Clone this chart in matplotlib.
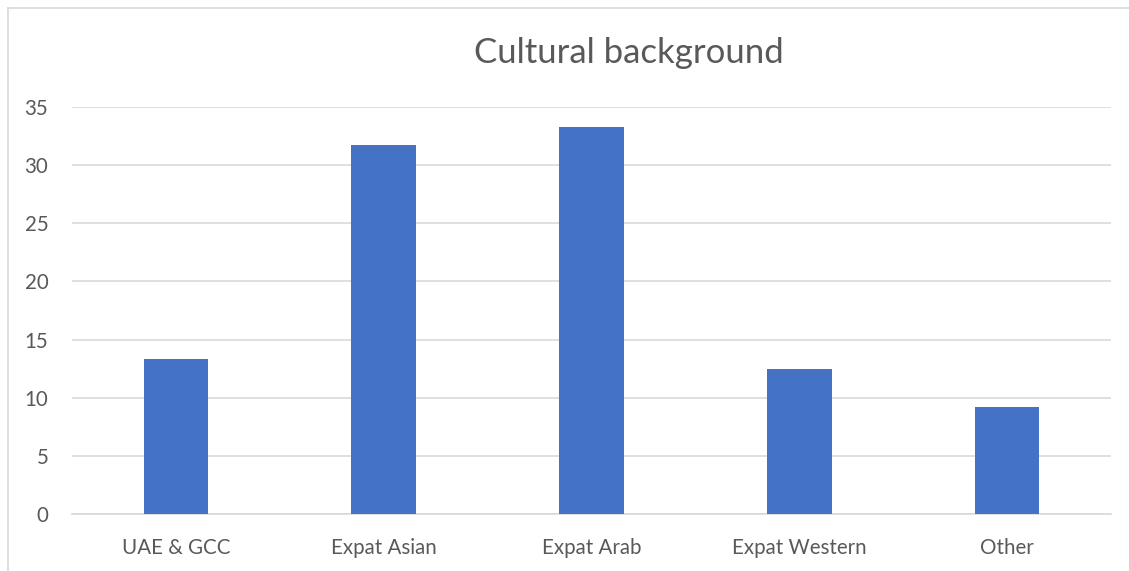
import matplotlib
matplotlib.use("Agg")
import matplotlib.pyplot as plt
from matplotlib.lines import Line2D

categories = ["UAE & GCC", "Expat Asian", "Expat Arab", "Expat Western", "Other"]
values = [13.3, 31.7, 33.3, 12.5, 9.2]
yticks = [0, 5, 10, 15, 20, 25, 30, 35]
title = "Cultural background"

plt.rcParams['font.family'] = ['Lato', 'DejaVu Sans']

fig = plt.figure(figsize=(11.29, 5.71), dpi=100)
ax = fig.add_axes([72/1129, 1-514/571, (1111-72)/1129, (514-107)/571])

x = list(range(len(categories)))
ax.bar(x, values, width=0.31, color="#4472C4", zorder=3)
ax.set_xlim(-0.5, len(categories)-0.5)
ax.set_ylim(0, 35)
ax.set_yticks(yticks)
ax.set_xticks(x)
ax.set_xticklabels(categories)
ax.tick_params(axis='both', length=0, labelsize=14.8, colors="#595959")
ax.tick_params(axis='y', pad=17)
ax.tick_params(axis='x', pad=17)
ax.yaxis.grid(True, color="#D9D9D9", linewidth=1.2, zorder=0)
for s in ["top", "right", "left"]:
    ax.spines[s].set_visible(False)
ax.spines["bottom"].set_color("#D9D9D9")
ax.spines["bottom"].set_linewidth(1.2)

fig.text(629/1129, 1-53/571, title, ha="center", va="center", fontsize=25, color="#595959")

# partial chart border (left and top)
fig.add_artist(Line2D([8/1129, 8/1129], [0, 1-8/571], transform=fig.transFigure, color="#D9D9D9", lw=1.2))
fig.add_artist(Line2D([8/1129, 1], [1-8/571, 1-8/571], transform=fig.transFigure, color="#D9D9D9", lw=1.2))

fig.savefig("out.png", dpi=100)
